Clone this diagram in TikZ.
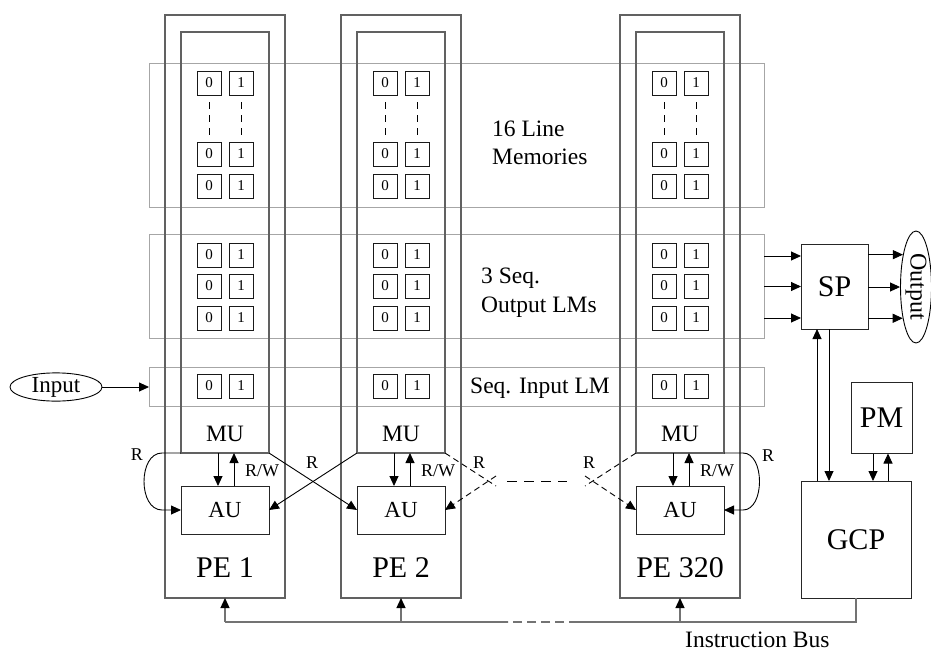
\documentclass[tikz,border=0pt]{standalone}
\usepackage{fontspec}
\setmainfont{Liberation Serif}
\usetikzlibrary{arrows.meta,shapes.geometric,calc}

\tikzset{
  pebox/.style={draw=black!62, line width=1.2pt, anchor=north west,
    minimum width=120pt, minimum height=583pt, inner sep=0pt, outer sep=0pt},
  mubox/.style={draw=black!62, line width=1.2pt, anchor=north west,
    minimum width=88pt, minimum height=421pt, inner sep=0pt, outer sep=0pt},
  band/.style={draw=black!35, line width=1pt, anchor=north west,
    minimum width=615pt, inner sep=0pt, outer sep=0pt},
  cell/.style={draw=black!90, line width=0.8pt, minimum size=24pt,
    inner sep=0pt, font=\fontsize{15}{15}\selectfont},
  unit/.style={draw=black!85, line width=1pt, inner sep=0pt, outer sep=0pt},
  big/.style={font=\fontsize{30}{30}\selectfont, inner sep=0pt},
  mid/.style={font=\fontsize{23.5}{23.5}\selectfont, inner sep=0pt},
  lbl/.style={font=\fontsize{18}{18}\selectfont, inner sep=0pt},
  tip/.style={-{Triangle[length=10pt,width=9pt]}},
  link/.style={line width=0.9pt, tip},
  dlink/.style={line width=0.9pt, dash pattern=on 6pt off 4pt},
  dots/.style={line width=0.8pt, dash pattern=on 7pt off 6pt,
    shorten <=7pt, shorten >=7pt},
  bus/.style={draw=black!55, line width=1.3pt},
  buslink/.style={draw=black!55, line width=1.3pt,
    -{Triangle[length=10pt,width=9pt,color=black]}},
}

\begin{document}
\begin{tikzpicture}[x=1pt,y=-1pt]
\useasboundingbox (0,0) rectangle (931,653);

% line-memory bands spanning all PEs
\node[band, minimum height=144pt] (lm16)  at (149,63)  {};
\node[band, minimum height=104pt] (lmout) at (149,234) {};
\node[band, minimum height=39pt]  (lmin)  at (149,367) {};

\node[mid, anchor=base west] (t16a) at (492,136) {16 Line};
\node[mid, anchor=base west] (t16b) at (492,164) {Memories};
\node[mid, anchor=base west] (tsqa) at (481,283) {3 Seq.};
\node[mid, anchor=base west] (tsqb) at (481,312) {Output LMs};
\node[mid, anchor=base west] (tsin) at (470,393) {Seq. Input LM};

% processing elements
\foreach \n/\x/\t in {1/165/PE 1, 2/341/PE 2, 3/620/PE 320}{
  \node[pebox] (pe\n) at (\x,15) {};
  \node[mubox] (mu\n) at (\x+16,32) {};
  \node[unit, minimum width=88pt, minimum height=48pt, font=\fontsize{23}{23}\selectfont]
    (au\n) at (\x+60,510) {AU};
  \node[mid] (mul\n) at (\x+60,434) {MU};
  \node[big] (pel\n) at (\x+60,568) {\t};
  \foreach \r/\y in {1/83, 2/154, 3/186, 4/255, 5/286, 6/318, 7/386}{
    \node[cell] (c\n-\r-0) at (\x+44,\y) {0};
    \node[cell] (c\n-\r-1) at (\x+76,\y) {1};
  }
  \draw[dots] (c\n-1-0.south) -- (c\n-2-0.north);
  \draw[dots] (c\n-1-1.south) -- (c\n-2-1.north);
  % MU <-> AU
  \draw[link] ($(mu\n.south)+(-7,0)$) -- ($(au\n.north)+(-7,0)$);
  \draw[link] ($(au\n.north)+(9,0)$) -- ($(mu\n.south)+(9,0)$);
  \node[lbl] (rw\n) at (\x+97,471) {R/W};
}

% neighbour reads
\draw[link] (mu1.south west) -- ++(-19,0)
  .. controls +(-24,0) and +(-24,0) .. ($(au1.west)+(-19,0)$) -- (au1.west);
\node[lbl] (r0) at (137,455) {R};
\draw[link] (mu1.south east) -- (au2.west);
\draw[link] (mu2.south west) -- (au1.east);
\node[lbl] (r1) at (312,463) {R};

\coordinate (xa) at (496,486);
\coordinate (xb) at (496,476);
\draw[dlink] (mu2.south east) -- (xa);
\draw[dlink, tip] (xb) -- (au2.east);
\node[lbl] (r2) at (479,463) {R};
\coordinate (ha) at (507,481);
\coordinate (hb) at (567,481);
\draw[line width=0.9pt, dash pattern=on 10pt off 7pt] (ha) -- (hb);
\coordinate (xc) at (585,486);
\coordinate (xd) at (585,476);
\draw[dlink] (mu3.south west) -- (xc);
\draw[dlink, tip] (xd) -- (au3.west);
\node[lbl] (r3) at (589,463) {R};

\draw[link] (mu3.south east) -- ++(19,0)
  .. controls +(22,0) and +(22,0) .. ($(au3.east)+(19,0)$) -- (au3.east);
\node[lbl] (r4) at (768,456) {R};

% input
\node[draw, ellipse, line width=0.9pt, inner sep=0pt, minimum width=92pt,
  minimum height=27pt, font=\fontsize{23}{23}\selectfont] (inp) at (56,387) {Input};
\draw[link] (inp.east) -- (inp.east -| lmin.west);

% sequential processor and output
\node[unit, minimum width=67pt, minimum height=85pt, big] (sp) at (834.5,286.5) {SP};
\node[draw, ellipse, line width=0.9pt, inner sep=0pt, minimum width=31pt,
  minimum height=112pt, font=\fontsize{24}{24}\selectfont] (out) at (916,287)
  {\rotatebox{-90}{Output}};
\coordinate (s1) at ($(sp.west)+(0,-30.5)$);
\coordinate (s2) at (sp.west);
\coordinate (s3) at ($(sp.west)+(0,31.5)$);
\foreach \k in {1,2,3}{
  \draw[link] (lmout.east |- s\k) -- (s\k);
}
\draw[link] (sp.east |- out.112.6) -- (out.112.6);
\draw[link] (sp.east |- out.west) -- (out.west);
\draw[link] (sp.east |- out.247.4) -- (out.247.4);

% controller and program memory
\node[unit, minimum width=61pt, minimum height=71pt, big] (pm) at (881.5,418) {PM};
\node[unit, minimum width=110pt, minimum height=117pt, big] (gcp) at (856,539.5) {GCP};
\coordinate (g1) at ($(sp.south)+(-17.5,0)$);
\coordinate (g2) at ($(sp.south)+(-5.5,0)$);
\draw[link] (g1 |- gcp.north) -- (g1);
\draw[link] (g2) -- (g2 |- gcp.north);
\coordinate (p1) at ($(pm.south)+(-8.5,0)$);
\coordinate (p2) at ($(pm.south)+(6.5,0)$);
\draw[link] (p1) -- (p1 |- gcp.north);
\draw[link] (p2 |- gcp.north) -- (p2);

% instruction bus
\coordinate (busR) at ($(gcp.south)+(0,24)$);
\coordinate (gapR) at (busR -| 578,0);
\coordinate (gapL) at (busR -| 508,0);
\draw[bus] (gcp.south) |- (gapR);
\draw[bus, dash pattern=on 9pt off 5pt] (gapR) -- (gapL);
\draw[bus] (gapL) -- (gapL -| pe1.south);
\foreach \n in {1,2,3}{
  \draw[buslink] (busR -| pe\n.south) -- (pe\n.south);
}
\node[mid, anchor=base west] (ib) at (685,647) {Instruction Bus};
\end{tikzpicture}
\end{document}
